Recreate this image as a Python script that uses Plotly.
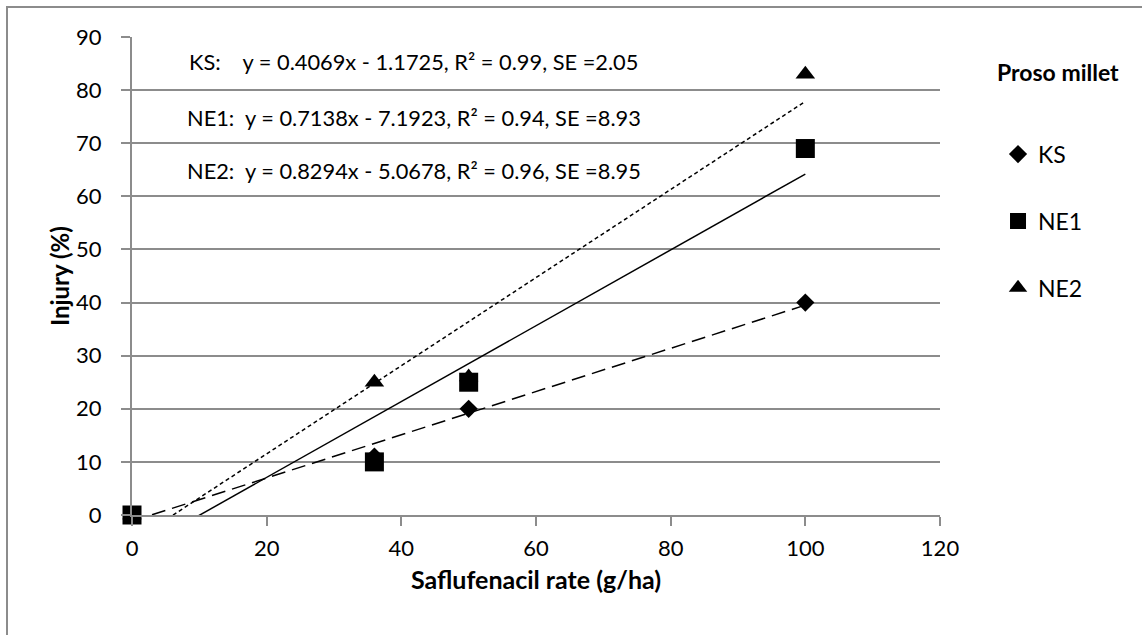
import numpy as np
import plotly.graph_objects as go

# ---- data ----
rates = [0, 36, 50, 100]
ks = [0, 11, 20, 40]
ne1 = [0, 10, 25, 69]
ne2 = [0, 25, 26, 83]
series_names = ["KS", "NE1", "NE2"]
equations = [
    "KS:\u00a0\u00a0\u00a0\u00a0y = 0.4069x - 1.1725, R\u00b2 = 0.99, SE =2.05",
    "NE1:\u00a0\u00a0y = 0.7138x - 7.1923, R\u00b2 = 0.94, SE =8.93",
    "NE2:\u00a0\u00a0y = 0.8294x - 5.0678, R\u00b2 = 0.96, SE =8.95",
]
x_ticks = [0, 20, 40, 60, 80, 100, 120]
y_ticks = [0, 10, 20, 30, 40, 50, 60, 70, 80, 90]

FONT = "Lato"
GRID = "#8c8c8c"

fig = go.Figure()

values = {"KS": ks, "NE1": ne1, "NE2": ne2}
symbols = {"KS": "diamond", "NE1": "square", "NE2": "triangle-up"}
msizes = {"KS": 14, "NE1": 19, "NE2": 17}
dashes = {"KS": "14px,7px", "NE1": "solid", "NE2": "4px,3px"}
ranks = {"KS": 1, "NE1": 2, "NE2": 3}

# trendlines (linear fits)
for name in series_names:
    slope, intercept = np.polyfit(rates, values[name], 1)
    xs = np.array([min(rates), max(rates)], dtype=float)
    fig.add_trace(go.Scatter(
        x=xs, y=slope * xs + intercept, mode="lines",
        line=dict(color="black", width=1.5, dash=dashes[name]),
        showlegend=False, hoverinfo="skip"))

# markers: NE1 drawn last (on top)
for name in ["KS", "NE2", "NE1"]:
    fig.add_trace(go.Scatter(
        x=rates, y=values[name], mode="markers", name=name,
        marker=dict(symbol=symbols[name], size=msizes[name], color="black"),
        cliponaxis=False, legendgroup=name, legendrank=ranks[name]))

# equation labels
eq_y = [85.3, 74.8, 64.8]
for txt, yv in zip(equations, eq_y):
    fig.add_annotation(x=0.349, y=yv, xref="paper", yref="y", text=txt,
                       showarrow=False, xanchor="center", yanchor="middle",
                       font=dict(family=FONT, size=21.8, color="black"))

# legend title
fig.add_annotation(x=1.0, xref="paper", y=1.0, yref="paper", xshift=118, yshift=-35,
                   text="<b>Proso millet</b>", showarrow=False, xanchor="center",
                   yanchor="middle", font=dict(family=FONT, size=23, color="black"))

# axis titles
fig.add_annotation(x=0.5, y=0, xref="paper", yref="paper", yshift=-64,
                   text="<b>Saflufenacil rate (g/ha)</b>", showarrow=False,
                   xanchor="center", yanchor="middle",
                   font=dict(family=FONT, size=25, color="black"))
fig.add_annotation(x=0, y=0.5, xref="paper", yref="paper", xshift=-73,
                   text="<b>Injury (%)</b>", showarrow=False, textangle=-90,
                   xanchor="center", yanchor="middle",
                   font=dict(family=FONT, size=24, color="black"))

# outer border
fig.add_shape(type="rect", xref="paper", yref="paper",
              x0=-125 / 808, x1=1.35, y0=-0.35, y1=508 / 478,
              line=dict(color="#8c8c8c", width=2), fillcolor="rgba(0,0,0,0)",
              layer="below")

fig.update_layout(
    width=1142, height=635,
    margin=dict(l=132, r=202, t=37, b=120),
    paper_bgcolor="white", plot_bgcolor="white",
    font=dict(family=FONT, size=22, color="black"),
    legend=dict(x=1.0718, xanchor="left", xref="paper", y=0.800, yanchor="top",
                font=dict(family=FONT, size=23, color="black"),
                tracegroupgap=34, bgcolor="rgba(0,0,0,0)",
                itemwidth=30),
    xaxis=dict(range=[0, 120], tickvals=x_ticks, showgrid=False, zeroline=False,
               showline=True, linecolor=GRID, linewidth=2,
               ticks="outside", ticklen=9, tickwidth=2, tickcolor=GRID,
               ticklabelstandoff=4,
               tickfont=dict(family=FONT, size=22, color="black")),
    yaxis=dict(range=[0, 90], tickvals=y_ticks, showgrid=True, gridcolor=GRID,
               gridwidth=2, zeroline=False, showline=True, linecolor=GRID,
               linewidth=2, ticks="outside", ticklen=9, tickwidth=2,
               tickcolor=GRID, ticklabelstandoff=15,
               tickfont=dict(family=FONT, size=22, color="black")),
)

fig.write_html("out.html", config={"displayModeBar": False},
               post_script="document.body.style.margin='0px';")
